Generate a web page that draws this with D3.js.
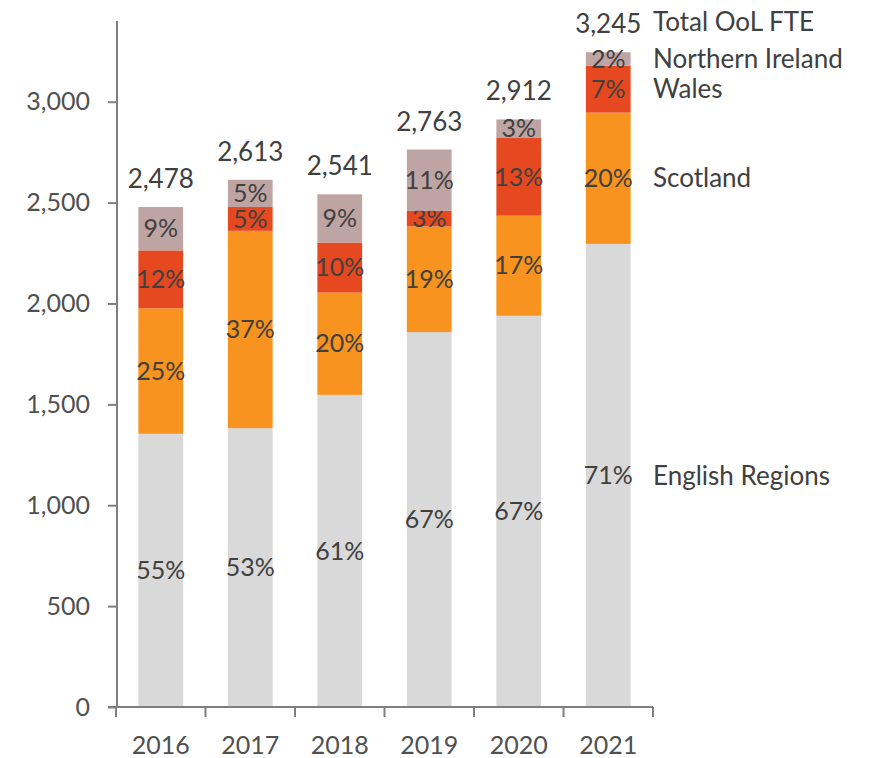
<!DOCTYPE html>
<html>
<head>
<meta charset="utf-8">
<script src="https://cdn.jsdelivr.net/npm/d3@7"></script>
<style>
  body { margin: 0; background: #fff; }
  text { font-family: Lato, "Open Sans", sans-serif; fill: #404040; }
  .axis path, .axis line { stroke: #7f7f7f; stroke-width: 2; }
  .axis text { font-size: 25px; fill: #505050; }
</style>
</head>
<body>
<svg id="chart" width="872" height="758"></svg>
<script>
var years = ["2016", "2017", "2018", "2019", "2020", "2021"];
var series = ["English Regions", "Scotland", "Wales", "Northern Ireland"];
var english = [1354, 1382, 1547, 1858, 1939, 2295];
var scotland = [622, 978, 507, 524, 496, 651];
var wales = [287, 118, 248, 77, 385, 232];
var nireland = [215, 135, 239, 304, 92, 67];
var totals = [2478, 2613, 2541, 2763, 2912, 3245];
var colors = ["#d9d9d9", "#f7931e", "#e6481f", "#bfa4a4"];
var yTicks = [0, 500, 1000, 1500, 2000, 2500, 3000];

var svg = d3.select("#chart");

var x = d3.scaleBand().domain(years).range([116, 653]).paddingInner(0.5).paddingOuter(0.25);
var y = d3.scaleLinear().domain([0, 3400]).range([707, 21]);

// build rows for the stack
var rows = years.map(function(yr, i) {
  return {year: yr, "English Regions": english[i], "Scotland": scotland[i],
          "Wales": wales[i], "Northern Ireland": nireland[i], total: totals[i]};
});

var stack = d3.stack().keys(series)(rows);

var layer = svg.selectAll(".layer")
    .data(stack)
  .enter().append("g")
    .attr("class", "layer")
    .attr("fill", function(d, i) { return colors[i]; });

layer.selectAll("rect")
    .data(function(d) { return d; })
  .enter().append("rect")
    .attr("x", function(d) { return x(d.data.year); })
    .attr("width", x.bandwidth())
    .attr("y", function(d) { return y(d[1]); })
    .attr("height", function(d) { return y(d[0]) - y(d[1]); });

// percentage labels
layer.selectAll("text")
    .data(function(d) { return d; })
  .enter().append("text")
    .attr("x", function(d) { return x(d.data.year) + x.bandwidth() / 2; })
    .attr("y", function(d) { return (y(d[0]) + y(d[1])) / 2; })
    .attr("dy", ".35em")
    .attr("text-anchor", "middle")
    .style("font-size", "25px")
    .text(function(d) { return Math.round((d[1] - d[0]) / d.data.total * 100) + "%"; });

// totals above bars
svg.selectAll(".total")
    .data(rows)
  .enter().append("text")
    .attr("class", "total")
    .attr("x", function(d) { return x(d.year) + x.bandwidth() / 2; })
    .attr("y", function(d) { return y(d.total) - 19; })
    .attr("text-anchor", "middle")
    .style("font-size", "26px")
    .text(function(d) { return d3.format(",")(d.total); });

// series labels beside the last bar
var last = years.length - 1;
svg.selectAll(".serieslabel")
    .data(stack)
  .enter().append("text")
    .attr("class", "serieslabel")
    .attr("x", 653)
    .attr("y", function(d) { return (y(d[last][0]) + y(d[last][1])) / 2; })
    .attr("dy", ".35em")
    .style("font-size", "26px")
    .text(function(d) { return d.key; });

svg.append("text")
    .attr("x", 653)
    .attr("y", y(totals[last]) - 21)
    .style("font-size", "26px")
    .text("Total OoL FTE");

// axes
var yAxis = svg.append("g")
    .attr("class", "axis")
    .attr("transform", "translate(117,0)")
    .call(d3.axisLeft(y).tickValues(yTicks).tickFormat(d3.format(",")).tickSize(9).tickSizeOuter(0).tickPadding(18));

yAxis.select(".domain").attr("d", "M0," + y(3400) + "V" + y(0));

var xAxis = svg.append("g")
    .attr("class", "axis")
    .attr("transform", "translate(0," + y(0) + ")");

xAxis.append("line")
    .attr("x1", 108).attr("x2", 653);

var bounds = years.map(function(d) { return x(d) - x.step() * x.paddingInner() / 2; });
bounds.push(653);
xAxis.selectAll(".xtick")
    .data(bounds)
  .enter().append("line")
    .attr("class", "xtick")
    .attr("x1", function(d) { return d; })
    .attr("x2", function(d) { return d; })
    .attr("y1", 0).attr("y2", 10);

xAxis.selectAll(".xlabel")
    .data(years)
  .enter().append("text")
    .attr("class", "xlabel")
    .attr("x", function(d) { return x(d) + x.bandwidth() / 2; })
    .attr("y", 47)
    .attr("text-anchor", "middle")
    .text(function(d) { return d; });
</script>
</body>
</html>
